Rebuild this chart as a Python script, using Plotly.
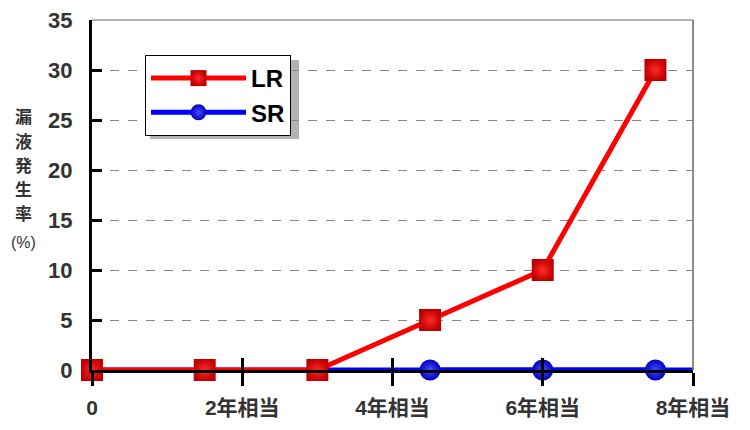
import plotly.graph_objects as go

# Data
lr_x = [0, 1.5, 3, 4.5, 6, 7.5]
lr_y = [0, 0, 0, 5, 10, 30]
sr_x = [0, 1.5, 3, 4.5, 6, 7.5, 8]
sr_y = [0, 0, 0, 0, 0, 0, 0]
sr_marker_x = [4.5, 6, 7.5]
sr_marker_y = [0, 0, 0]
x_tickvals = [0, 2, 4, 6, 8]
x_ticktext = ["0", "2年相当", "4年相当", "6年相当", "8年相当"]
y_tickvals = [0, 5, 10, 15, 20, 25, 30, 35]
y_title_chars = ["漏", "液", "発", "生", "率"]
y_title_unit = "(%)"

FONT = "Liberation Sans, Noto Sans CJK JP, sans-serif"
OFF = 8  # page body margin
W, H = 750 - OFF, 430 - OFF
L, T = 92 - OFF, 20 - OFF
PW, PH = 601, 350
R, B = W - L - PW, H - T - PH

def px(x):
    return (x - OFF - L) / PW

def py(y):
    return (T + PH - (y - OFF)) / PH

fig = go.Figure()

# SR line (full width)
fig.add_trace(go.Scatter(
    x=sr_x, y=sr_y, mode="lines", name="SR", showlegend=False,
    line=dict(color="#0000ff", width=5), cliponaxis=False, hoverinfo="skip"))
# SR markers
fig.add_trace(go.Scatter(
    x=sr_marker_x, y=sr_marker_y, mode="lines+markers", name="SR",
    line=dict(color="#0000ff", width=5),
    marker=dict(symbol="circle", size=21, color="#0000c0",
                gradient=dict(type="radial", color="#4a4aff"),
                line=dict(width=0)),
    cliponaxis=False, legendrank=2))
# LR
fig.add_trace(go.Scatter(
    x=lr_x, y=lr_y, mode="lines+markers", name="LR",
    line=dict(color="#ff0000", width=5),
    marker=dict(symbol="square", size=22, color="#c00000",
                gradient=dict(type="radial", color="#ff2a2a"),
                line=dict(width=0)),
    cliponaxis=False, legendrank=1))

# Overlay axis for inward-pointing x ticks
fig.add_trace(go.Scatter(x=[0], y=[0], xaxis="x2", mode="markers",
                         marker=dict(opacity=0), showlegend=False, hoverinfo="skip"))

# Legend shadow
fig.add_shape(type="rect", xref="paper", yref="paper",
              x0=px(150), x1=px(299), y0=py(139), y1=py(60),
              fillcolor="rgba(0,0,0,0.3)", line=dict(width=0), layer="below")

fig.update_layout(
    width=W, height=H,
    margin=dict(l=L, r=R, t=T, b=B, autoexpand=False),
    paper_bgcolor="white", plot_bgcolor="white",
    font=dict(family=FONT, size=22, color="#333333", weight="bold"),
    showlegend=True,
    legend=dict(x=px(145), y=py(55), xanchor="left", yanchor="top",
                bgcolor="white", bordercolor="#000000", borderwidth=1,
                font=dict(size=24, color="#000000", family=FONT, weight="bold"),
                itemwidth=95),
    xaxis=dict(range=[0, 8], tickvals=x_tickvals, ticktext=x_ticktext,
               showgrid=False, zeroline=False, showline=True, linecolor="black", linewidth=3,
               ticks="outside", ticklen=13, tickwidth=3, tickcolor="black",
               ticklabelstandoff=4, ticklabeloverflow="allow",
               tickfont=dict(size=21, color="#333333"), automargin=False),
    xaxis2=dict(range=[0, 8], overlaying="x", anchor="y", side="bottom",
                tickvals=x_tickvals, showticklabels=False, showgrid=False, zeroline=False,
                showline=False, ticks="inside", ticklen=12, tickwidth=3, tickcolor="black"),
    yaxis=dict(range=[0, 35], tickvals=y_tickvals,
               showgrid=True, gridcolor="#888888", griddash="dash", gridwidth=1,
               zeroline=False, showline=True, linecolor="black", linewidth=3,
               ticks="inside", ticklen=10, tickwidth=3, tickcolor="black",
               ticklabelstandoff=12, ticklabeloverflow="allow",
               tickfont=dict(size=22, color="#333333"), automargin=False),
)

# Plot border (top and right)
fig.add_shape(type="line", xref="paper", yref="paper", x0=0, x1=1, y0=1, y1=1,
              line=dict(color="#999999", width=1.5))
fig.add_shape(type="line", xref="paper", yref="paper", x0=1, x1=1, y0=0, y1=1,
              line=dict(color="#666666", width=1.5))

# Y axis title (vertical, one character per line)
for i, ch in enumerate(y_title_chars):
    fig.add_annotation(xref="paper", yref="paper", x=px(23), y=py(116 + 24 * i),
                       text=ch, showarrow=False, xanchor="center", yanchor="middle",
                       borderpad=0,
                       font=dict(size=17, color="#333333", family="Noto Sans CJK JP",
                                 weight="bold"))
fig.add_annotation(xref="paper", yref="paper", x=px(23), y=py(242),
                   text=y_title_unit, showarrow=False, xanchor="center", yanchor="middle",
                   borderpad=0,
                   font=dict(size=16, color="#333333", family="Liberation Sans", weight="normal"))

fig.write_html("out.html")
